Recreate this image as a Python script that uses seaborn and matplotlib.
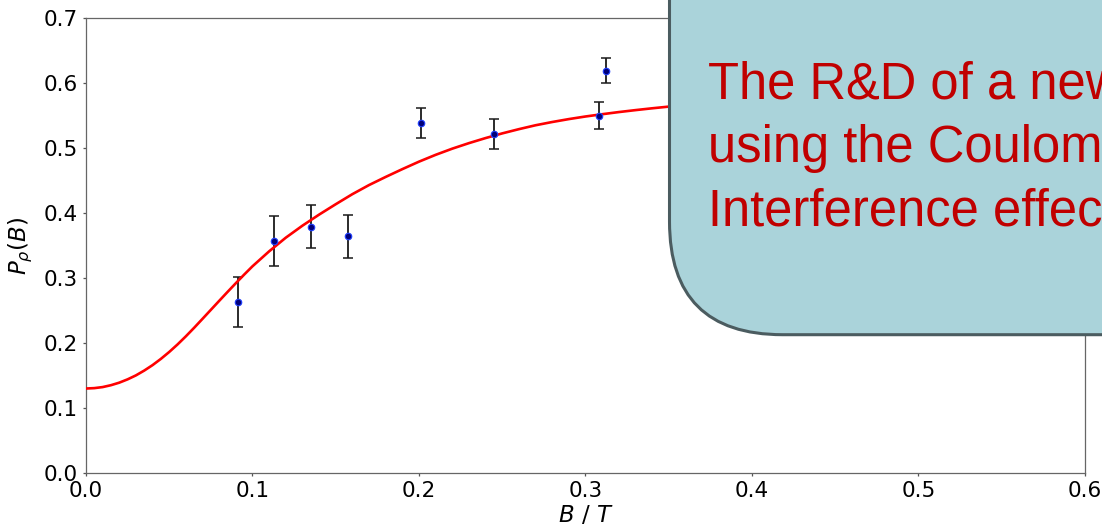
import matplotlib
matplotlib.use("Agg")
import matplotlib.pyplot as plt
from matplotlib.patches import FancyBboxPatch
from matplotlib.transforms import IdentityTransform
import seaborn as sns
import pandas as pd

# Measured polarisation vs. magnetic field
field_T = [0.0911, 0.1129, 0.1350, 0.1572, 0.2010, 0.2452, 0.3081, 0.3121]
polarisation = [0.263, 0.357, 0.379, 0.364, 0.538, 0.521, 0.550, 0.619]
pol_err = [0.039, 0.038, 0.033, 0.033, 0.023, 0.023, 0.0215, 0.0195]

# Fitted curve, sampled (denser where it bends most)
fit_B = [0.000, 0.005, 0.010, 0.015, 0.020, 0.025, 0.030, 0.035, 0.040,
         0.045, 0.050, 0.055, 0.060, 0.065, 0.070, 0.075, 0.080, 0.085,
         0.090, 0.095, 0.100,
         0.11, 0.12, 0.13, 0.14, 0.15, 0.16, 0.17, 0.18, 0.19, 0.20,
         0.21, 0.22, 0.23, 0.24, 0.25, 0.26, 0.27, 0.28, 0.29, 0.30,
         0.31, 0.32, 0.33, 0.34, 0.35, 0.36]
fit_P = [0.1300, 0.1306, 0.1322, 0.1351, 0.1390, 0.1441, 0.1502, 0.1576,
         0.1660, 0.1756, 0.1862, 0.1978, 0.2103, 0.2235, 0.2372, 0.2510,
         0.2648, 0.2785, 0.2920, 0.3052, 0.3180,
         0.3410, 0.3620, 0.3805, 0.3975, 0.4135, 0.4290, 0.4430, 0.4555,
         0.4675, 0.4790, 0.4895, 0.4990, 0.5075, 0.5153, 0.5225, 0.5290,
         0.5350, 0.5400, 0.5445, 0.5485, 0.5520, 0.5553, 0.5583, 0.5611,
         0.5637, 0.5660]

box_lines = ["The R&D of a new", "using the Coulomb", "Interference effect"]

sns.set_style("ticks")
plt.rcParams["font.family"] = ["DejaVu Sans"]
plt.rcParams["mathtext.fontset"] = "dejavusans"

fig = plt.figure(figsize=(11.02, 5.24), dpi=100)
ax = fig.add_axes([0.0780, 0.0973, 0.9065, 0.8683])

pts = pd.DataFrame({"B": field_T, "P": polarisation, "err": pol_err})
fit = pd.DataFrame({"B": fit_B, "P": fit_P})

ax.errorbar(pts["B"], pts["P"], yerr=pts["err"], fmt="none", ecolor="#1a1a1a",
            elinewidth=1.3, capsize=3.3, capthick=1.1, zorder=2)
sns.lineplot(data=fit, x="B", y="P", color="#ff0000", linewidth=1.9,
             ax=ax, zorder=3)
sns.scatterplot(data=pts, x="B", y="P", color="#00007a", edgecolor="#1f3fff",
                linewidth=0.8, s=22, ax=ax, zorder=4)

ax.set_xlim(0, 0.6)
ax.set_ylim(0, 0.7)
ax.set_xticks([0.0, 0.1, 0.2, 0.3, 0.4, 0.5, 0.6])
ax.set_yticks([0.0, 0.1, 0.2, 0.3, 0.4, 0.5, 0.6, 0.7])
ax.set_xlabel(r"$B\ /\ T$", fontsize=16.5, labelpad=2, color="black")
ax.set_ylabel(r"$P_\rho(B)$", fontsize=16.5, labelpad=6, color="black")
ax.tick_params(labelsize=15.5, length=2.5, width=0.9, color="#555555",
               labelcolor="black", pad=3.5)
for sp in ax.spines.values():
    sp.set_visible(True)
    sp.set_color("#666666")
    sp.set_linewidth(0.9)

# Callout panel with rounded lower-left corner
panel = FancyBboxPatch((669.5, 189.3), 700, 500,
                       boxstyle="round,pad=0,rounding_size=113",
                       transform=IdentityTransform(), facecolor="#aad3da",
                       edgecolor="#4b5c60", linewidth=2.2, zorder=10)
fig.add_artist(panel)
for i, line in enumerate(box_lines):
    fig.text(708 / 1102, (524 - 98.3 - 63.7 * i) / 524, line,
             color="#c00000", fontsize=36.5, family=["Liberation Sans"],
             ha="left", va="baseline", zorder=11)

fig.savefig("out.png", dpi=100)
